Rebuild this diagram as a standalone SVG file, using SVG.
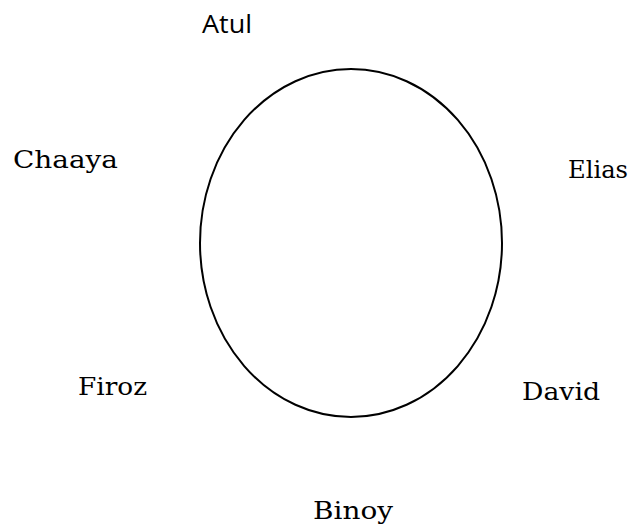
<svg xmlns="http://www.w3.org/2000/svg" width="640" height="530" viewBox="0 0 640 530">
<style>
.n{font-family:"DejaVu Serif","Liberation Serif",serif;font-size:25px;fill:#000}
.s{font-family:"Open Sans","Liberation Sans",sans-serif;font-size:26px;fill:#000}
</style>
<rect width="640" height="530" fill="#fff"/>
<g id="circle"><ellipse cx="351" cy="243" rx="151" ry="174" fill="none" stroke="#000" stroke-width="2"/></g>
<g id="connectors"></g>
<g id="atul"><text class="s" x="202" y="33" textLength="50" lengthAdjust="spacingAndGlyphs">Atul</text></g>
<g id="chaaya"><text class="n" x="13" y="168" textLength="105" lengthAdjust="spacingAndGlyphs">Chaaya</text></g>
<g id="elias"><text class="n" x="568" y="178" textLength="60" lengthAdjust="spacingAndGlyphs">Elias</text></g>
<g id="firoz"><text class="n" x="78" y="395" textLength="69" lengthAdjust="spacingAndGlyphs">Firoz</text></g>
<g id="david"><text class="n" x="522" y="400" textLength="78" lengthAdjust="spacingAndGlyphs">David</text></g>
<g id="binoy"><text class="n" x="313" y="519" textLength="80" lengthAdjust="spacingAndGlyphs">Binoy</text></g>
</svg>
